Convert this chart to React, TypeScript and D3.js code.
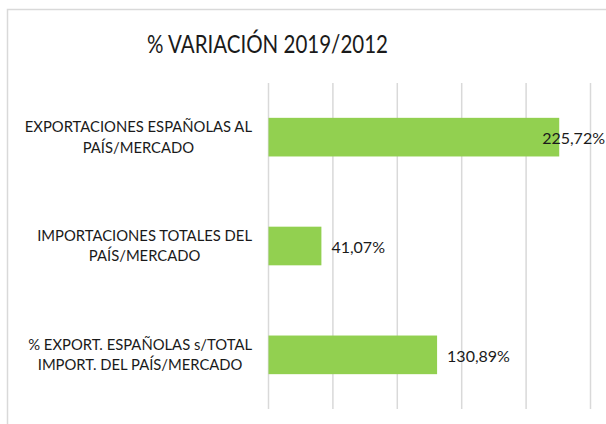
import React, { useEffect, useRef } from "react";
import * as d3 from "d3";

const title = "% VARIACIÓN 2019/2012";
const categories: string[][] = [
  ["EXPORTACIONES ESPAÑOLAS AL", "PAÍS/MERCADO"],
  ["IMPORTACIONES TOTALES DEL", "PAÍS/MERCADO"],
  ["% EXPORT. ESPAÑOLAS s/TOTAL", "IMPORT. DEL PAÍS/MERCADO"],
];
const values = [225.72, 41.07, 130.89];
const valueLabels = ["225,72%", "41,07%", "130,89%"];
const ticks = [0, 50, 100, 150, 200, 250];

const W = 606;
const H = 424;
const FONT = "Lato, 'Open Sans', sans-serif";

export default function App() {
  const ref = useRef<SVGSVGElement | null>(null);

  useEffect(() => {
    const svg = d3.select(ref.current);
    svg.selectAll("*").remove();

    const plotLeft = 268.5;
    const plotRight = 590.5;
    const plotTop = 83;
    const plotBottom = 409;

    const x = d3.scaleLinear().domain([0, 250]).range([plotLeft, plotRight]);
    const y = d3
      .scaleBand<number>()
      .domain(d3.range(values.length))
      .range([plotTop, plotBottom])
      .paddingInner(0.645)
      .paddingOuter(0.32);

    svg
      .append("rect")
      .attr("x", 7.5)
      .attr("y", 9.5)
      .attr("width", W + 20)
      .attr("height", H + 20)
      .attr("fill", "#fff")
      .attr("stroke", "#d9d9d9")
      .attr("stroke-width", 1.5);

    svg
      .append("text")
      .attr("x", 147)
      .attr("y", 53)
      .attr("font-family", FONT)
      .attr("font-size", 25)
      .attr("textLength", 241)
      .attr("lengthAdjust", "spacingAndGlyphs")
      .attr("fill", "#1a1a1a")
      .text(title);

    svg
      .append("g")
      .selectAll("line")
      .data(ticks)
      .join("line")
      .attr("x1", (d) => x(d))
      .attr("x2", (d) => x(d))
      .attr("y1", plotTop)
      .attr("y2", plotBottom)
      .attr("stroke", "#d9d9d9")
      .attr("stroke-width", 1.5);

    svg
      .append("g")
      .selectAll("rect")
      .data(values)
      .join("rect")
      .attr("x", x(0))
      .attr("y", (_, i) => y(i)!)
      .attr("width", (d) => x(d) - x(0))
      .attr("height", y.bandwidth())
      .attr("fill", "#92d050");

    // category labels: each line centered, block right-aligned
    const labelRight = 252;
    categories.forEach((lines, i) => {
      const cy = y(i)! + y.bandwidth() / 2;
      const g = svg.append("g");
      const texts = lines.map((ln, j) =>
        g
          .append("text")
          .attr("y", cy + (j - (lines.length - 1) / 2) * 20.5)
          .attr("dy", "0.35em")
          .attr("text-anchor", "middle")
          .attr("font-family", FONT)
          .attr("font-size", 14.8)
          .attr("fill", "#1a1a1a")
          .text(ln)
      );
      const maxW = Math.max(
        ...texts.map((t) => (t.node() as SVGTextElement).getComputedTextLength())
      );
      texts.forEach((t) => t.attr("x", labelRight - maxW / 2));
    });

    // value labels
    values.forEach((v, i) => {
      const cy = y(i)! + y.bandwidth() / 2;
      const t = svg
        .append("text")
        .attr("y", cy + 1.5)
        .attr("dy", "0.35em")
        .attr("font-family", FONT)
        .attr("font-size", 16)
        .attr("fill", "#1a1a1a")
        .text(valueLabels[i]);
      const w = (t.node() as SVGTextElement).getComputedTextLength();
      const px = Math.min(x(v) + 10, 605 - w);
      t.attr("x", px);
    });
  }, []);

  return (
    <svg
      ref={ref}
      width={W}
      height={H}
      style={{ position: "absolute", left: 0, top: 0, background: "#fff" }}
    />
  );
}
